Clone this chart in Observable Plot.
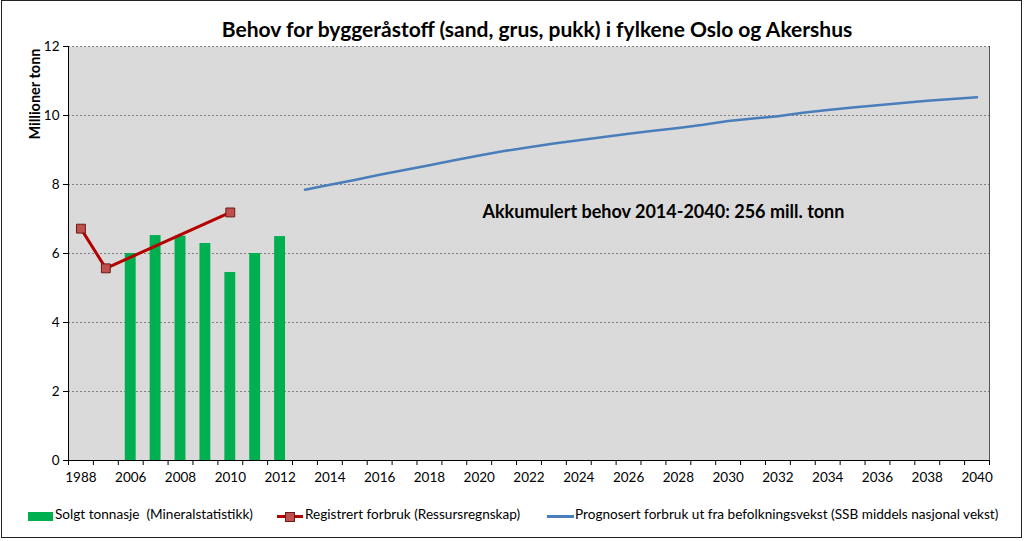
<!DOCTYPE html>
<html><head><meta charset="utf-8">
<script src="https://cdn.jsdelivr.net/npm/d3@7"></script>
<script src="https://cdn.jsdelivr.net/npm/@observablehq/plot@0.6"></script>
<style>
body{margin:0;background:#fff;}
#wrap{position:relative;width:1024px;height:541px;font-family:Lato,"Open Sans",sans-serif;color:#000;overflow:hidden;}
#border{position:absolute;left:1px;top:0px;width:1019px;height:536px;border:1.5px solid #222;pointer-events:none;}
#title{position:absolute;left:0;top:16px;width:1074px;text-align:center;font-weight:bold;font-size:21px;white-space:nowrap;}
#chart{position:absolute;left:0;top:0;}
.lg{position:absolute;top:506px;font-size:13.6px;white-space:pre;}
.sw{position:absolute;}
</style></head><body>
<div id="wrap">
  <div id="chart"></div>
  <div id="title">Behov for byggeråstoff (sand, grus, pukk) i fylkene Oslo og Akershus</div>
  <div id="legend"></div>
  <div id="border"></div>
</div>
<script>
const categories = ["1988","1999","2006","2007","2008","2009","2010","2011","2012","2013","2014","2015","2016","2017","2018","2019","2020","2021","2022","2023","2024","2025","2026","2027","2028","2029","2030","2031","2032","2033","2034","2035","2036","2037","2038","2039","2040"];
const xTickLabels = ["1988","2006","2008","2010","2012","2014","2016","2018","2020","2022","2024","2026","2028","2030","2032","2034","2036","2038","2040"];
const yTicks = [0,2,4,6,8,10,12];

const soldYears = ["2006","2007","2008","2009","2010","2011","2012"];
const soldValues = [6.0,6.52,6.5,6.29,5.45,6.0,6.49];

const registeredYears = ["1988","1999","2010"];
const registeredValues = [6.72,5.57,7.19];

const forecastYears = ["2013","2014","2015","2016","2017","2018","2019","2020","2021","2022","2023","2024","2025","2026","2027","2028","2029","2030","2031","2032","2033","2034","2035","2036","2037","2038","2039","2040"];
const forecastValues = [7.85,7.99,8.13,8.28,8.42,8.56,8.70,8.84,8.97,9.08,9.19,9.28,9.38,9.47,9.56,9.64,9.73,9.84,9.91,9.98,10.08,10.16,10.23,10.30,10.36,10.43,10.48,10.53];

const seriesNames = ["Solgt tonnasje  (Mineralstatistikk)","Registrert forbruk (Ressursregnskap)","Prognosert forbruk ut fra befolkningsvekst (SSB middels nasjonal vekst)"];
const yLabel = "Millioner tonn";
const annotation = {text:"Akkumulert behov 2014-2040: 256 mill. tonn", x:"2027", y:7.2};

const W = 1024, H = 541, mL = 68, mR = 35, mT = 46, mB = 81;
const step = (W - mL - mR) / categories.length;

const sold = soldYears.map((year,i)=>({year, value: soldValues[i]}));
const reg = registeredYears.map((year,i)=>({year, value: registeredValues[i]}));
const fc = forecastYears.map((year,i)=>({year, value: forecastValues[i]}));

const fontFam = "Lato, 'Open Sans', sans-serif";

const chart = Plot.plot({
  width: W, height: H,
  marginLeft: mL, marginRight: mR, marginTop: mT, marginBottom: mB,
  style: {fontFamily: fontFam, fontSize: "13px", color:"#000", background:"transparent"},
  x: {type:"band", domain: categories, padding: 0, axis: null},
  y: {domain:[0,12], axis: null},
  marks: [
    Plot.frame({fill:"#dadada", stroke:null}),
    Plot.gridY(yTicks.filter(d=>d>0), {stroke:"#808080", strokeOpacity:1, strokeDasharray:"2,2"}),
    Plot.frame({anchor:"right", stroke:"#555"}),
    Plot.barY(sold, {x:"year", y:"value", fill:"#00b050", insetLeft:7, insetRight:7}),
    Plot.line(fc, {x:"year", y:"value", stroke:"#4a7ebb", strokeWidth:2.5}),
    Plot.line(reg, {x:"year", y:"value", stroke:"#b40000", strokeWidth:3}),
    Plot.dot(reg, {x:"year", y:"value", symbol:"square", r:5, fill:"#c0504d", stroke:"#6b1a1a", strokeWidth:1}),
    Plot.text([annotation], {x:"x", y:"y", text:"text", fontSize:18, fontWeight:"bold", fill:"#000", dx:10}),
    Plot.ruleY([0], {stroke:"#000", strokeWidth:1}),
    Plot.frame({anchor:"left", stroke:"#000"}),
    Plot.axisY({ticks: yTicks, tickSize:5, tickPadding:4, label:null, fontSize:13.5, stroke:"#000"}),
    Plot.axisX({ticks: xTickLabels, tickSize:0, tickPadding:12, label:null, fontSize:13.5}),
    Plot.axisX({ticks: categories, tickSize:5, tickFormat: ()=>"", label:null, dx:-step/2, stroke:"#000"}),
    Plot.axisX({ticks: categories.slice(-1), tickSize:5, tickFormat: ()=>"", label:null, dx:step/2, stroke:"#000"}),
    Plot.text([yLabel], {frameAnchor:"top-left", text:d=>d, rotate:-90, textAnchor:"end", dx:-39, dy:2, fontWeight:"bold", fontSize:14.5, fill:"#000"})
  ]
});
document.getElementById("chart").appendChild(chart);

const lg = document.getElementById("legend");
lg.innerHTML = `
<div class="sw" style="left:28px;top:512px;width:25px;height:9px;background:#00b050"></div>
<div class="lg" style="left:55px">${seriesNames[0]}</div>
<div class="sw" style="left:277px;top:515px;width:26px;height:3px;background:#b40000"></div>
<div class="sw" style="left:285px;top:512px;width:8px;height:8px;background:#c0504d;border:1px solid #6b1a1a"></div>
<div class="lg" style="left:305px">${seriesNames[1]}</div>
<div class="sw" style="left:547px;top:515px;width:27px;height:3px;background:#4a7ebb"></div>
<div class="lg" style="left:575px">${seriesNames[2]}</div>`;
</script>
</body></html>
